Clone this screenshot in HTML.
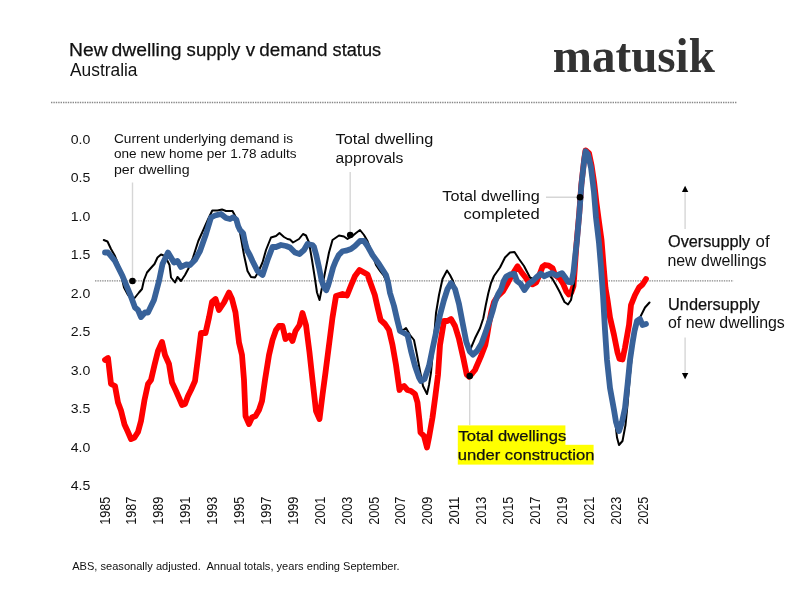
<!DOCTYPE html>
<html><head><meta charset="utf-8"><title>New dwelling supply v demand status</title>
<style>
html,body{margin:0;padding:0;background:#fff;}
body{width:800px;height:599px;overflow:hidden;font-family:"Liberation Sans",sans-serif;}
svg{display:block;will-change:transform;font-family:"Liberation Sans",sans-serif;fill:#111;}
.med{stroke:#111;stroke-width:0.25px;}
.ln{fill:none;stroke-linejoin:round;stroke-linecap:round;}
</style></head><body>
<svg width="800" height="599" viewBox="0 0 800 599">
<rect width="800" height="599" fill="#fff"/>
<!-- header -->
<g class="med" font-size="18"><text x="69.1" y="55.5" textLength="38.6" lengthAdjust="spacingAndGlyphs">New</text><text x="111.6" y="55.5" textLength="69.8" lengthAdjust="spacingAndGlyphs">dwelling</text><text x="186.6" y="55.5" textLength="53.7" lengthAdjust="spacingAndGlyphs">supply</text><text x="245.7" y="55.5" textLength="9.4" lengthAdjust="spacingAndGlyphs">v</text><text x="259.3" y="55.5" textLength="68.1" lengthAdjust="spacingAndGlyphs">demand</text><text x="332.6" y="55.5" textLength="48.5" lengthAdjust="spacingAndGlyphs">status</text></g>
<text x="70" y="76.3" font-size="17.5" textLength="67.5" lengthAdjust="spacingAndGlyphs">Australia</text>
<text x="552.8" y="71.9" font-family="Liberation Serif, serif" font-weight="bold" font-size="47.5" fill="#333" textLength="162" lengthAdjust="spacingAndGlyphs">matusik</text>
<line x1="51" y1="102.5" x2="737" y2="102.5" stroke="#888" stroke-width="1.3" stroke-dasharray="1.4 1"/>
<!-- reference line -->
<line x1="95" y1="280.8" x2="733.5" y2="280.8" stroke="#888" stroke-width="1.3" stroke-dasharray="1.4 1"/>
<!-- callout lines -->
<g stroke="#d6d6d6" stroke-width="1.4" fill="none">
<line x1="132.5" y1="182.5" x2="132.5" y2="281"/>
<line x1="350.2" y1="172" x2="350.2" y2="235"/>
<line x1="546" y1="197.2" x2="580" y2="197.2"/>
<line x1="469.7" y1="376" x2="469.7" y2="425"/>
<line x1="685.1" y1="191" x2="685.1" y2="229"/>
<line x1="685.1" y1="337.5" x2="685.1" y2="374"/>
</g>
<!-- series -->
<polyline class="ln" stroke="#fe0000" stroke-width="5.8" points="105,360 108,358 111,384 115,386 118,402.5 121,410.5 124.5,424.5 127.5,431 131,439 134.5,437.5 138,432 141,421 144.5,400 148,384 151,380 154.5,365 158,351 162,342 165,355 169,364 172,382.5 176,391 179.5,399 182,405 185,404 188,396 191,390 195,381 198,357.5 201,333 205.5,333 209,317.5 212,302 215.5,299 219,310 224,302.5 229,292.5 232,299 235.5,312.5 239,342.5 242,355 244,380 245.5,416 249,424 252,417.5 255.5,416 259,410 262,401 265,380 269,355 272.5,340 276,330 279,326 282.5,326 285.5,339 289.5,335.5 292.5,341 295.5,331 299.5,325 302.5,313 306,325 309.5,352.5 312.5,380 316,411 319.5,419 322.5,395 325.5,372.5 329,345 332.5,317.5 336,296 342.5,294 347,295.5 351,285.5 355,276 359.5,270 364,272.5 367.5,274.5 371.2,285 374.8,295 378.2,310 380.6,320 385,324 389,330 392.5,345 396,365 399.5,390 401,387.5 404,386 407.5,390 411,391 415,394 417.5,402.5 419.5,421 420.5,432.5 424,436 427,447.5 429,437.5 432.5,417.5 435.5,395 438,375 440,345 444,321 447.5,321 451,319 455,326 459,339 463.3,358 466.7,374.5 469.2,376.7 472.5,373 475,370 480.8,356.7 485.3,345 487.2,335 489,324 491.3,312 494,302 497.5,296.5 502.8,291.5 508,282.5 512,275 517.5,266.25 522,273 525.6,277.5 528.75,282.5 532.5,284.4 536.25,282.5 539.4,275 542.5,266.9 545,265 548.75,265.6 552.5,268.1 555,275 560,278.75 563.1,283.75 566.25,291.25 568.75,294.4 571.25,292.5 573.5,286 574.7,270 576.4,245 579.3,212.5 581.3,185 584.1,160 585.5,150.3 589,153.2 591.5,165 594.2,183 596.5,203 599,222 601.5,240 603.5,265 605.5,288 607.5,300 610,317.5 614,335 617.5,352.5 619.5,359 622.5,359.5 625,347.5 629,325 631,305 635,295 639,287.5 642.5,284.5 646,279"/>
<polyline class="ln" stroke="#000" stroke-width="2" points="103.75,240 107.5,241.5 111,249 115,256 119,266 124,287.5 128,295 132,300 135,297.5 139,292.5 142,289 144,280 147,272.5 150,269 154.5,264 157.5,257.5 161,254.5 165,256 169.5,265 171,277.5 175,282.5 177.5,277 181,281 185,275 189,267.5 193,257.5 198.3,241 203.3,230 208.2,219 212.3,210.5 217.5,210.5 222,209.5 226,211 232.5,211 236,217.5 240,232.5 244,255 247.5,271 251,277 255,277.5 258,272.5 262.5,262.5 266,250 271,237.5 276,236 279.5,233 284,237 287.5,239 290,239.5 293,242.5 299,239 303,234 306,235.5 309,242.5 312,260 315,279 317,292.5 319.5,300 322,287.5 325,272.5 329,252.5 332.5,240 339,235.5 344,236.5 347.5,239 352.5,236 356,233 360,230 364,235 367.5,241 372,253 376,265 380,271 384,276 387,283 390,295 394,308 398,320 402,331 406,328 410,335 414,340 417,355 420,371 423,386 427,394 429,385 431,372.5 433.5,345 436,313 439,295 442.5,279 447,270.5 450,275 453,281 456,290 460,306 463.5,325 467,343 470.5,349 475,338.3 480,328.3 483.3,318.3 485.8,305 488.3,293.3 491,283 494,276 500,267.5 505,257.5 510,252.5 514.5,252 519,259 524,266 530,277.5 535,280 540,276 545,276 550,276 552.5,279 556,285 560,292.5 564.5,302 568,304.5 571,300 574,285 576,245 579,212 581,185 584,160 585.5,151 588,154 591,167 594,192 596,217 599,243 601,267 603,295 605,330 607.5,362 611,392 615,420 617,437.5 619,445 622.5,441 625.5,425 627.5,405 630,375 633,345 636,328 640,317.5 645,307.5 649.5,302.5"/>
<polyline class="ln" stroke="#38629a" stroke-width="5.8" points="105,252.5 108,252.5 115,261 122.5,276 130,294 135,307.5 138,310 141,317 145,312.5 148,312.5 154,300 159,281 162.5,264 168,252.5 174,262.5 177.5,261 181,267 186,264.5 190,265 195,260 200,251 206,234 211,217.5 215,215.5 221,214 226,218 230,219 233.2,217.3 236.3,219.5 238.2,226.3 240,230 243.1,233.2 245,242.5 247,250 250,255.5 252.5,261 257.5,271 262.5,275 267.5,260 272.5,247 276,247 281,245 286,246 290,247.5 295,252.5 299.5,254 304,250 307.5,244 312.3,245 314,247 316.2,255 319,267.5 321.5,280 323.75,286.5 326.2,290.3 328,286 329.75,280 333.1,267.5 335.6,261.25 338.75,255 342.5,251.25 346,250.7 351,249 355,246 360,241 364,241 367.5,246 372.5,255 379,264 386,275 388,282 390,293 394,306 397,319 400,331 404,333 407.5,335 411,351 415,366 419,377.5 421,381 424.5,379 429,366 432.5,349 436,332.5 440,315 444,300 447.5,289 451,283 455,289 459,304 462.5,322.5 466.3,342 469.8,351.5 473,354.7 477,351 481.5,343.5 485,334 489.2,322 492.5,311.5 495,302 498,294.5 501.2,289 503.5,281.5 506.3,276.5 510,274.5 514.4,274 516.9,281 520.6,283.75 524.4,290 528.75,283.75 532.5,281.25 536.25,277.5 540.6,273.75 544.4,276.25 548.1,274.4 551.9,273.1 556.25,275.6 561.9,273.1 565.6,278.1 568.1,281.9 571.5,282.5 573.5,272 575.3,255 576.9,241 579.4,212.5 581.4,185 584.2,160 585.6,151.3 588,154.3 591,167.5 594,192.5 596,217.5 599,243 601,267 603,295 605,330 607,360 610,388 614,410 616,422 619,431 622,422 625,408 627.5,385 630,360 632.5,343 634.5,331 637,321 640,319 642.5,325 646,324"/>
<!-- dots -->
<g fill="#000">
<circle cx="132.5" cy="281" r="3.3"/>
<circle cx="350.2" cy="235" r="3.3"/>
<circle cx="580" cy="197.2" r="3.3"/>
<circle cx="469.7" cy="376" r="3.3"/>
<path d="M685.1 185.7 L688.3 192 L681.9 192 Z"/>
<path d="M685.1 379.2 L688.3 372.9 L681.9 372.9 Z"/>
</g>
<!-- axis labels -->
<g font-size="13.5"><text x="70.7" y="143.90" textLength="19.6" lengthAdjust="spacingAndGlyphs">0.0</text><text x="70.7" y="182.37" textLength="19.6" lengthAdjust="spacingAndGlyphs">0.5</text><text x="70.7" y="220.84" textLength="19.6" lengthAdjust="spacingAndGlyphs">1.0</text><text x="70.7" y="259.31" textLength="19.6" lengthAdjust="spacingAndGlyphs">1.5</text><text x="70.7" y="297.78" textLength="19.6" lengthAdjust="spacingAndGlyphs">2.0</text><text x="70.7" y="336.25" textLength="19.6" lengthAdjust="spacingAndGlyphs">2.5</text><text x="70.7" y="374.72" textLength="19.6" lengthAdjust="spacingAndGlyphs">3.0</text><text x="70.7" y="413.19" textLength="19.6" lengthAdjust="spacingAndGlyphs">3.5</text><text x="70.7" y="451.66" textLength="19.6" lengthAdjust="spacingAndGlyphs">4.0</text><text x="70.7" y="490.13" textLength="19.6" lengthAdjust="spacingAndGlyphs">4.5</text></g>
<g font-size="14.5"><text transform="translate(109.50,524.8) rotate(-90)" textLength="28.2" lengthAdjust="spacingAndGlyphs">1985</text><text transform="translate(136.40,524.8) rotate(-90)" textLength="28.2" lengthAdjust="spacingAndGlyphs">1987</text><text transform="translate(163.30,524.8) rotate(-90)" textLength="28.2" lengthAdjust="spacingAndGlyphs">1989</text><text transform="translate(190.20,524.8) rotate(-90)" textLength="28.2" lengthAdjust="spacingAndGlyphs">1991</text><text transform="translate(217.10,524.8) rotate(-90)" textLength="28.2" lengthAdjust="spacingAndGlyphs">1993</text><text transform="translate(244.00,524.8) rotate(-90)" textLength="28.2" lengthAdjust="spacingAndGlyphs">1995</text><text transform="translate(270.90,524.8) rotate(-90)" textLength="28.2" lengthAdjust="spacingAndGlyphs">1997</text><text transform="translate(297.80,524.8) rotate(-90)" textLength="28.2" lengthAdjust="spacingAndGlyphs">1999</text><text transform="translate(324.70,524.8) rotate(-90)" textLength="28.2" lengthAdjust="spacingAndGlyphs">2001</text><text transform="translate(351.60,524.8) rotate(-90)" textLength="28.2" lengthAdjust="spacingAndGlyphs">2003</text><text transform="translate(378.50,524.8) rotate(-90)" textLength="28.2" lengthAdjust="spacingAndGlyphs">2005</text><text transform="translate(405.40,524.8) rotate(-90)" textLength="28.2" lengthAdjust="spacingAndGlyphs">2007</text><text transform="translate(432.30,524.8) rotate(-90)" textLength="28.2" lengthAdjust="spacingAndGlyphs">2009</text><text transform="translate(459.20,524.8) rotate(-90)" textLength="28.2" lengthAdjust="spacingAndGlyphs">2011</text><text transform="translate(486.10,524.8) rotate(-90)" textLength="28.2" lengthAdjust="spacingAndGlyphs">2013</text><text transform="translate(513.00,524.8) rotate(-90)" textLength="28.2" lengthAdjust="spacingAndGlyphs">2015</text><text transform="translate(539.90,524.8) rotate(-90)" textLength="28.2" lengthAdjust="spacingAndGlyphs">2017</text><text transform="translate(566.80,524.8) rotate(-90)" textLength="28.2" lengthAdjust="spacingAndGlyphs">2019</text><text transform="translate(593.70,524.8) rotate(-90)" textLength="28.2" lengthAdjust="spacingAndGlyphs">2021</text><text transform="translate(620.60,524.8) rotate(-90)" textLength="28.2" lengthAdjust="spacingAndGlyphs">2023</text><text transform="translate(647.50,524.8) rotate(-90)" textLength="28.2" lengthAdjust="spacingAndGlyphs">2025</text></g>
<!-- annotations -->
<g font-size="13">
<text x="114" y="142.5" textLength="179" lengthAdjust="spacingAndGlyphs">Current underlying demand is</text>
<text x="114" y="158.2" textLength="182.5" lengthAdjust="spacingAndGlyphs">one new home per 1.78 adults</text>
<text x="114" y="173.9" textLength="75.5" lengthAdjust="spacingAndGlyphs">per dwelling</text>
</g>
<g font-size="15.5">
<text x="335.6" y="144.4" textLength="97.7" lengthAdjust="spacingAndGlyphs">Total dwelling</text>
<text x="335.6" y="162.9" textLength="67.8" lengthAdjust="spacingAndGlyphs">approvals</text>
<text x="442.3" y="200.6" textLength="97.4" lengthAdjust="spacingAndGlyphs">Total dwelling</text>
<text x="463.4" y="219.1" textLength="76.4" lengthAdjust="spacingAndGlyphs">completed</text>
</g>
<rect x="457.8" y="425.4" width="107.6" height="19.6" fill="#ffff00"/>
<rect x="457.8" y="444.8" width="135.8" height="19.8" fill="#ffff00"/>
<g font-size="15.5" class="med">
<text x="458.4" y="441" textLength="107.8" lengthAdjust="spacingAndGlyphs">Total dwellings</text>
<text x="457.8" y="460" textLength="136.6" lengthAdjust="spacingAndGlyphs">under construction</text>
</g>
<g font-size="16">
<text x="668" y="246.6"><tspan class="med" textLength="82.2" lengthAdjust="spacingAndGlyphs">Oversupply</tspan></text>
<text x="755.6" y="246.6" textLength="14" lengthAdjust="spacingAndGlyphs">of</text>
<text x="667.4" y="265.6" textLength="99.2" lengthAdjust="spacingAndGlyphs">new dwellings</text>
<text class="med" x="668" y="309.5" textLength="91.8" lengthAdjust="spacingAndGlyphs">Undersupply</text>
<text x="668" y="328.2" textLength="116.8" lengthAdjust="spacingAndGlyphs">of new dwellings</text>
</g>
<text x="72.2" y="569.8" font-size="11.5" textLength="327.5" lengthAdjust="spacingAndGlyphs" xml:space="preserve">ABS, seasonally adjusted.  Annual totals, years ending September.</text>
</svg>
</body></html>
